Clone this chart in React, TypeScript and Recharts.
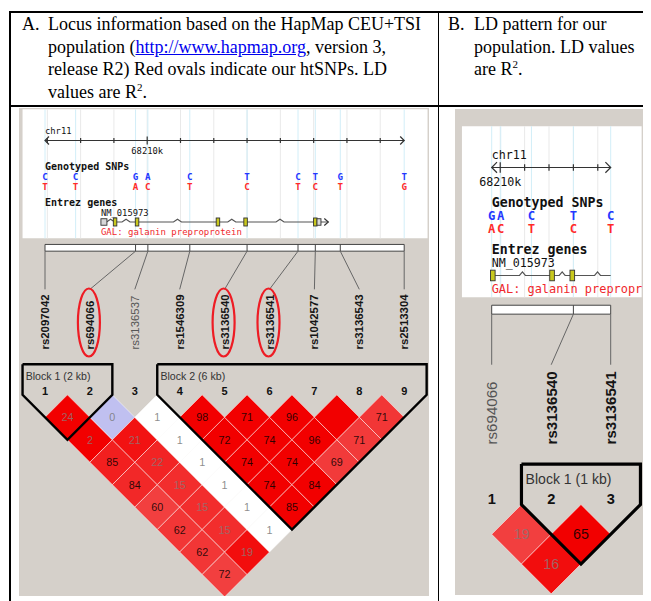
import React from 'react';
import { ScatterChart, Scatter, XAxis, YAxis, ReferenceArea, ReferenceLine } from 'recharts';

// Panel A: HapMap CEU+TSI markers (positions in kb on chr11)
const snpNamesA = ['rs2097042', 'rs694066', 'rs3136537', 'rs1546309', 'rs3136540', 'rs3136541', 'rs1042577', 'rs3136543', 'rs2513304'];
const snpKbA = [68206.93, 68209.65, 68210.02, 68211.28, 68213.0, 68214.53, 68215.05, 68215.8, 68217.72];
const thinLabelsA = ['rs3136537'];
// r2 x 100, row a = pairs (a, a+1), (a, a+2) ...
const r2A = [
  [24, 2, 85, 84, 60, 62, 62, 72],
  [0, 21, 22, 15, 15, 15, 19],
  [1, 1, 1, 1, 1, 1],
  [98, 72, 74, 74, 85],
  [71, 74, 74, 84],
  [96, 96, 69],
  [100, 71],
  [71],
];
// D' and LOD (estimated from the cell shading)
const dPrimeA = [
  [1, 1, 0.93, 0.91, 0.86, 0.88, 0.88, 0.86],
  [1, 0.96, 0.92, 0.9, 0.9, 0.9, 0.97],
  [0.5, 0.5, 0.5, 0.5, 0.5, 0.5],
  [1, 1, 1, 1, 1],
  [1, 1, 1, 1],
  [1, 1, 0.87],
  [1, 0.87],
  [0.88],
];
const lodA = [
  [4, 3, 9, 9, 7, 7, 7, 8],
  [1, 3, 3, 3, 3, 3, 3],
  [0, 0, 0, 0, 0, 0],
  [12, 9, 9, 9, 10],
  [9, 9, 9, 10],
  [12, 12, 8],
  [12, 8],
  [8],
];
const blocksA = [[1, 2], [4, 9]];
const blockSizeA = [2, 6];

// Panel B: our population
const snpNamesB = ['rs694066', 'rs3136540', 'rs3136541'];
const snpKbB = [68209.65, 68213.0, 68214.53];
const thinLabelsB = ['rs694066'];
const r2B = [[19, 16], [65]];
const dPrimeB = [[0.86, 0.97], [1]];
const lodB = [[4, 5], [8]];
const blocksB = [[2, 3]];
const blockSizeB = [1];

const htSnps = ['rs694066', 'rs3136540', 'rs3136541'];

// HapMap locus image
const genotypedKb = [68206.93, 68207.85, 68209.65, 68210.02, 68211.28, 68213.0, 68214.53, 68215.05, 68215.8, 68217.72];
const majorAllele = ['C', 'C', 'G', 'A', 'C', 'T', 'C', 'T', 'G', 'T'];
const minorAllele = ['T', 'T', 'A', 'C', 'T', 'C', 'T', 'C', 'T', 'G'];
const geneName = 'NM_015973';
const geneKb = [68208.61, 68215.22];
const exonKb = [
  [68208.61, 68208.79],
  [68209.01, 68209.06],
  [68209.67, 68209.72],
  [68212.1, 68212.15],
  [68212.93, 68212.98],
  [68215.0, 68215.1],
  [68215.1, 68215.22],
];
const exonUtr = [true, false, false, false, false, false, true];
const rulerLabelKb = 68210;

// vertical layout, in half-cell units (row 1 = adjacent-pair diamonds)
const ROW = {
  boxTop: -12.72, boxBottom: -6.97,
  chr: -11.62, ruler: -11.33, kbLabel: -10.72,
  genotyped: -10.0, major: -9.57, minor: -9.13,
  entrez: -8.42, geneName: -7.97, gene: -7.7, geneLabel: -7.1,
  barTop: -6.7, barBottom: -6.4, connector: -4.7,
  snpLabel: -2.02, blockTop: -1.36, blockLabel: -0.68, marker: -0.17,
};

const SANS = '"Liberation Sans", Arial, sans-serif';
const MONO = '"DejaVu Sans Mono", "Liberation Mono", monospace';

function ldColour(dp: number, lod: number) {
  if (lod < 2) return dp >= 1 ? '#c0c0f0' : '#ffffff';
  if (dp >= 1) return '#f20000';
  const g = Math.min(255, Math.round(2 * 224 * (1 - dp)));
  return `rgb(242,${g},${g})`;
}

const none = () => <g />;

function LdPanel(props: any) {
  const { names, kb, thin, r2, dp, lod, blocks, blockSize, width, height, cell, x0, y0, geneText } = props;
  const s = cell / 44.9;
  const unit = cell / 2;
  const n = names.length;
  const k0 = kb[0];
  const k1 = kb[n - 1];
  const track = (v: number) => 1 + ((v - k0) / (k1 - k0)) * (n - 1);
  const pxPerKb = (cell * (n - 1)) / (k1 - k0);
  const xDomain = [1 - x0 / cell, 1 + (width - x0) / cell];
  const yDomain = [1 - y0 / unit, 1 + (height - y0) / unit];

  const cells: any[] = [];
  r2.forEach((row: number[], a: number) =>
    row.forEach((v, k) => {
      const i = a + 1;
      const j = a + 2 + k;
      cells.push({ x: (i + j) / 2, y: j - i, r2: v, dp: dp[a][k], lod: lod[a][k] });
    }),
  );

  const markers = names.map((_: string, i: number) => ({ x: i + 1, y: ROW.marker, text: String(i + 1), kind: 'marker' }));
  const labels = names.map((name: string, i: number) => ({
    x: i + 1, y: ROW.snpLabel, name, thin: thin.includes(name), ht: props.ovals && htSnps.includes(name),
  }));

  const gStart = Math.max(geneKb[0], k0);
  const gEnd = Math.min(geneKb[1], k1);
  const texts = [
    { x: 1, y: ROW.chr, text: 'chr11', kind: 'mono' },
    { x: track(rulerLabelKb), y: ROW.kbLabel, text: `${rulerLabelKb}k`, kind: 'monoMid' },
    { x: 1, y: ROW.genotyped, text: 'Genotyped SNPs', kind: 'monoBold' },
    { x: 1, y: ROW.entrez, text: 'Entrez genes', kind: 'monoBold' },
    { x: track(gStart), y: ROW.geneName, text: geneName, kind: 'mono' },
    { x: track(gStart), y: ROW.geneLabel, text: geneText, kind: 'gal' },
    ...blocks.map(([a]: number[], k: number) => ({
      x: a - 0.43, y: ROW.blockLabel, text: `Block ${k + 1} (${blockSize[k]} kb)`, kind: 'block',
    })),
  ];

  const alleles = genotypedKb
    .map((g, i) => ({ x: track(g), y: ROW.major, major: majorAllele[i], minor: minorAllele[i], kb: g }))
    .filter((d) => d.kb >= k0 - 0.15 && d.kb <= k1 + 0.15);

  const ticks: any[] = [];
  for (let k = Math.ceil(k0); k <= Math.floor(k1); k++) ticks.push({ x: track(k), y: ROW.ruler, major: k === rulerLabelKb });
  const rulerEnds = [{ x: 1, y: ROW.ruler, dir: -1 }, { x: n, y: ROW.ruler, dir: 1 }];

  const exons = exonKb
    .map(([a, b], i) => ({ a: Math.max(a, k0), b: Math.min(b, k1), utr: exonUtr[i] }))
    .filter((e) => e.b > e.a - 0.01)
    .map((e) => ({ x: track((e.a + e.b) / 2), y: ROW.gene, w: Math.max(3.5 * s, (e.b - e.a) * pxPerKb), utr: e.utr }));

  const geneLine: any[] = [{ x: track(gStart), y: ROW.gene }];
  for (let i = 0; i < exonKb.length - 1; i++) {
    const mid = (exonKb[i][1] + exonKb[i + 1][0]) / 2;
    if (mid > gStart && mid < gEnd && exonKb[i + 1][0] - exonKb[i][1] > 0.2) {
      geneLine.push({ x: track(mid - 0.12), y: ROW.gene });
      geneLine.push({ x: track(mid), y: ROW.gene - 0.12 });
      geneLine.push({ x: track(mid + 0.12), y: ROW.gene });
    }
  }
  geneLine.push({ x: track(gEnd), y: ROW.gene });
  if (geneKb[1] + 0.22 < k1) geneLine.push({ x: track(geneKb[1] + 0.22), y: ROW.gene, arrow: true });

  const txtStyle: Record<string, any> = {
    mono: { fontFamily: MONO, fontSize: 8.8 * s, fill: '#111', textAnchor: 'start' },
    monoMid: { fontFamily: MONO, fontSize: 8.8 * s, fill: '#111', textAnchor: 'middle' },
    monoBold: { fontFamily: MONO, fontSize: 10 * s, fontWeight: 700, fill: '#111', textAnchor: 'start' },
    gal: { fontFamily: MONO, fontSize: 9 * s, fill: '#f0282d', textAnchor: 'start' },
    block: { fontFamily: SANS, fontSize: 10.6 * s, fill: '#333', textAnchor: 'start' },
    marker: { fontFamily: SANS, fontSize: 11 * s, fontWeight: 700, fill: '#111', textAnchor: 'middle', dominantBaseline: 'central' },
  };

  return (
    <div style={{ width, height, background: '#d5d0ca' }}>
      <ScatterChart width={width} height={height} margin={{ top: 0, right: 0, bottom: 0, left: 0 }}>
        <XAxis type="number" dataKey="x" domain={xDomain} hide allowDataOverflow />
        <YAxis type="number" dataKey="y" domain={yDomain} hide reversed allowDataOverflow />

        <ReferenceArea x1={0.5} x2={n + 0.52} y1={ROW.boxTop} y2={ROW.boxBottom} fill="#ffffff" fillOpacity={1} stroke="none" />
        {ticks.map((t, i) => (
          <ReferenceLine key={`g${i}`} segment={[{ x: t.x, y: ROW.boxTop }, { x: t.x, y: ROW.boxBottom }]} stroke="#e9e9e9" />
        ))}
        {alleles.map((a, i) => (
          <ReferenceLine key={`c${i}`} segment={[{ x: a.x, y: ROW.boxTop }, { x: a.x, y: ROW.boxBottom }]} stroke="#d2eef8" />
        ))}
        <ReferenceLine segment={[{ x: 1, y: ROW.ruler }, { x: n, y: ROW.ruler }]} stroke="#333" strokeWidth={1.2} />
        <ReferenceArea x1={1} x2={n} y1={ROW.barTop} y2={ROW.barBottom} fill="#ffffff" fillOpacity={1} stroke="#444" strokeWidth={1} />
        {kb.slice(1, n - 1).map((v: number, i: number) => (
          <ReferenceLine key={`b${i}`} segment={[{ x: track(v), y: ROW.barTop }, { x: track(v), y: ROW.barBottom }]} stroke="#444" />
        ))}
        {kb.map((v: number, i: number) => (
          <ReferenceLine key={`l${i}`} segment={[{ x: track(v), y: ROW.barBottom }, { x: i + 1, y: ROW.connector }]} stroke="#666" />
        ))}

        <Scatter data={ticks} isAnimationActive={false} shape={(p: any) => {
          const h = (p.payload.major ? 4 : 2.5) * s;
          return <line x1={p.cx} x2={p.cx} y1={p.cy - h} y2={p.cy + h} stroke="#333" strokeWidth={1.2} />;
        }} />
        <Scatter data={rulerEnds} isAnimationActive={false} shape={(p: any) => {
          const d = p.payload.dir * 4 * s;
          return <polyline points={`${p.cx - d},${p.cy - 4 * s} ${p.cx},${p.cy} ${p.cx - d},${p.cy + 4 * s}`} fill="none" stroke="#333" strokeWidth={1.2} />;
        }} />
        <Scatter data={alleles} isAnimationActive={false} shape={(p: any) => (
          <g fontFamily={MONO} fontWeight={700} fontSize={9.2 * s} textAnchor="middle">
            <text x={p.cx} y={p.cy} fill="#2337ff">{p.payload.major}</text>
            <text x={p.cx} y={p.cy + (ROW.minor - ROW.major) * unit} fill="#ff2a2a">{p.payload.minor}</text>
          </g>
        )} />
        <Scatter data={geneLine} isAnimationActive={false} line={{ stroke: '#555', strokeWidth: 1.2 }} shape={(p: any) =>
          p.payload.arrow ? (
            <polyline points={`${p.cx - 4 * s},${p.cy - 3.5 * s} ${p.cx},${p.cy} ${p.cx - 4 * s},${p.cy + 3.5 * s}`} fill="none" stroke="#333" strokeWidth={1.2} />
          ) : <g />
        } />
        <Scatter data={exons} isAnimationActive={false} shape={(p: any) => {
          const w = p.payload.w;
          const h = (p.payload.utr ? 6.5 : 8) * s;
          return <rect x={p.cx - w / 2} y={p.cy - h / 2} width={w} height={h} fill={p.payload.utr ? '#d8d8d8' : '#c8c81e'} stroke="#333" strokeWidth={0.9} />;
        }} />
        <Scatter data={texts} isAnimationActive={false} shape={(p: any) => (
          <text x={p.cx} y={p.cy} {...txtStyle[p.payload.kind]}>{p.payload.text}</text>
        )} />

        <Scatter data={labels} isAnimationActive={false} shape={(p: any) => {
          const d = p.payload;
          return (
            <g>
              <text
                transform={`translate(${p.cx},${p.cy}) rotate(-90)`}
                textAnchor="start"
                dominantBaseline="central"
                fontFamily={SANS}
                fontSize={11.4 * s}
                fontWeight={d.thin ? 400 : 700}
                fill={d.thin ? '#555' : '#151515'}
              >
                {d.name}
              </text>
              {d.ht && <ellipse cx={p.cx - 1 * s} cy={p.cy - 27 * s} rx={11 * s} ry={34 * s} fill="none" stroke="#ee1c24" strokeWidth={2.2} />}
            </g>
          );
        }} />

        <Scatter data={cells} isAnimationActive={false} shape={(p: any) => {
          const d = p.payload;
          const h = cell / 2;
          const bg = ldColour(d.dp, d.lod);
          const light = bg === '#ffffff' || bg === '#c0c0f0' ? 'rgba(120,120,120,0.85)' : 'rgba(150,110,110,0.9)';
          return (
            <g>
              <polygon
                points={`${p.cx},${p.cy - h} ${p.cx + h},${p.cy} ${p.cx},${p.cy + h} ${p.cx - h},${p.cy}`}
                fill={bg}
                stroke="#ffffff"
                strokeOpacity={0.5}
                strokeWidth={1}
              />
              {d.r2 < 100 && (
                <text x={p.cx} y={p.cy} textAnchor="middle" dominantBaseline="central" fontFamily={SANS} fontSize={10.8 * s}
                  fill={d.r2 >= 50 ? 'rgba(0,0,0,0.82)' : light}>
                  {d.r2}
                </text>
              )}
            </g>
          );
        }} />

        {blocks.map(([a, b]: number[], k: number) => (
          <Scatter
            key={`blk${k}`}
            data={[
              { x: a - 0.5, y: ROW.blockTop },
              { x: a - 0.5, y: 0 },
              { x: (a + b) / 2, y: b - a + 1 },
              { x: b + 0.5, y: 0 },
              { x: b + 0.5, y: ROW.blockTop },
              { x: a - 0.5, y: ROW.blockTop },
            ]}
            isAnimationActive={false}
            line={{ stroke: '#000', strokeWidth: 2.4 * s, strokeLinejoin: 'miter' }}
            shape={none}
          />
        ))}
        <Scatter data={markers} isAnimationActive={false} shape={(p: any) => (
          <text x={p.cx} y={p.cy} {...txtStyle.marker}>{p.payload.text}</text>
        )} />
      </ScatterChart>
    </div>
  );
}

const rule = (left: number, top: number, w: number, h: number) => (
  <div style={{ position: 'absolute', left, top, width: w, height: h, background: '#000' }} />
);

export default function App() {
  const head = { position: 'absolute' as const, top: 5, fontSize: 18, lineHeight: '22.5px', whiteSpace: 'nowrap' as const };
  return (
    <div style={{ position: 'relative', width: 643, height: 593, overflow: 'hidden', fontFamily: '"Liberation Serif", "Times New Roman", serif', color: '#000' }}>
      {rule(2, 3.3, 660, 1.4)}
      {rule(1.3, 3.3, 1.4, 600)}
      {rule(2, 97.3, 660, 1.4)}
      {rule(430, 3.3, 1.4, 600)}

      <div style={{ ...head, left: 14 }}>A.</div>
      <div style={{ ...head, left: 40 }}>
        Locus information based on the HapMap CEU+TSI<br />
        population (<span style={{ color: '#0000ee', textDecoration: 'underline' }}>http://www.hapmap.org</span>, version 3,<br />
        release R2) Red ovals indicate our htSNPs. LD<br />
        values are R<sup style={{ fontSize: 11, lineHeight: 0 }}>2</sup>.
      </div>
      <div style={{ ...head, left: 440 }}>B.</div>
      <div style={{ ...head, left: 466 }}>
        LD pattern for our<br />
        population. LD values<br />
        are R<sup style={{ fontSize: 11, lineHeight: 0 }}>2</sup>.
      </div>

      <div style={{ position: 'absolute', left: 11, top: 100 }}>
        <LdPanel
          names={snpNamesA} kb={snpKbA} thin={thinLabelsA} r2={r2A} dp={dPrimeA} lod={lodA}
          blocks={blocksA} blockSize={blockSizeA} ovals
          width={410} height={488} cell={44.9} x0={26} y0={309.3}
          geneText="GAL: galanin preproprotein"
        />
      </div>
      <div style={{ position: 'absolute', left: 447, top: 101 }}>
        <LdPanel
          names={snpNamesB} kb={snpKbB} thin={thinLabelsB} r2={r2B} dp={dPrimeB} lod={lodB}
          blocks={blocksB} blockSize={blockSizeB} ovals={false}
          width={193} height={486} cell={59.5} x0={36.7} y0={425.3}
          geneText="GAL: galanin prepropr"
        />
      </div>
    </div>
  );
}
